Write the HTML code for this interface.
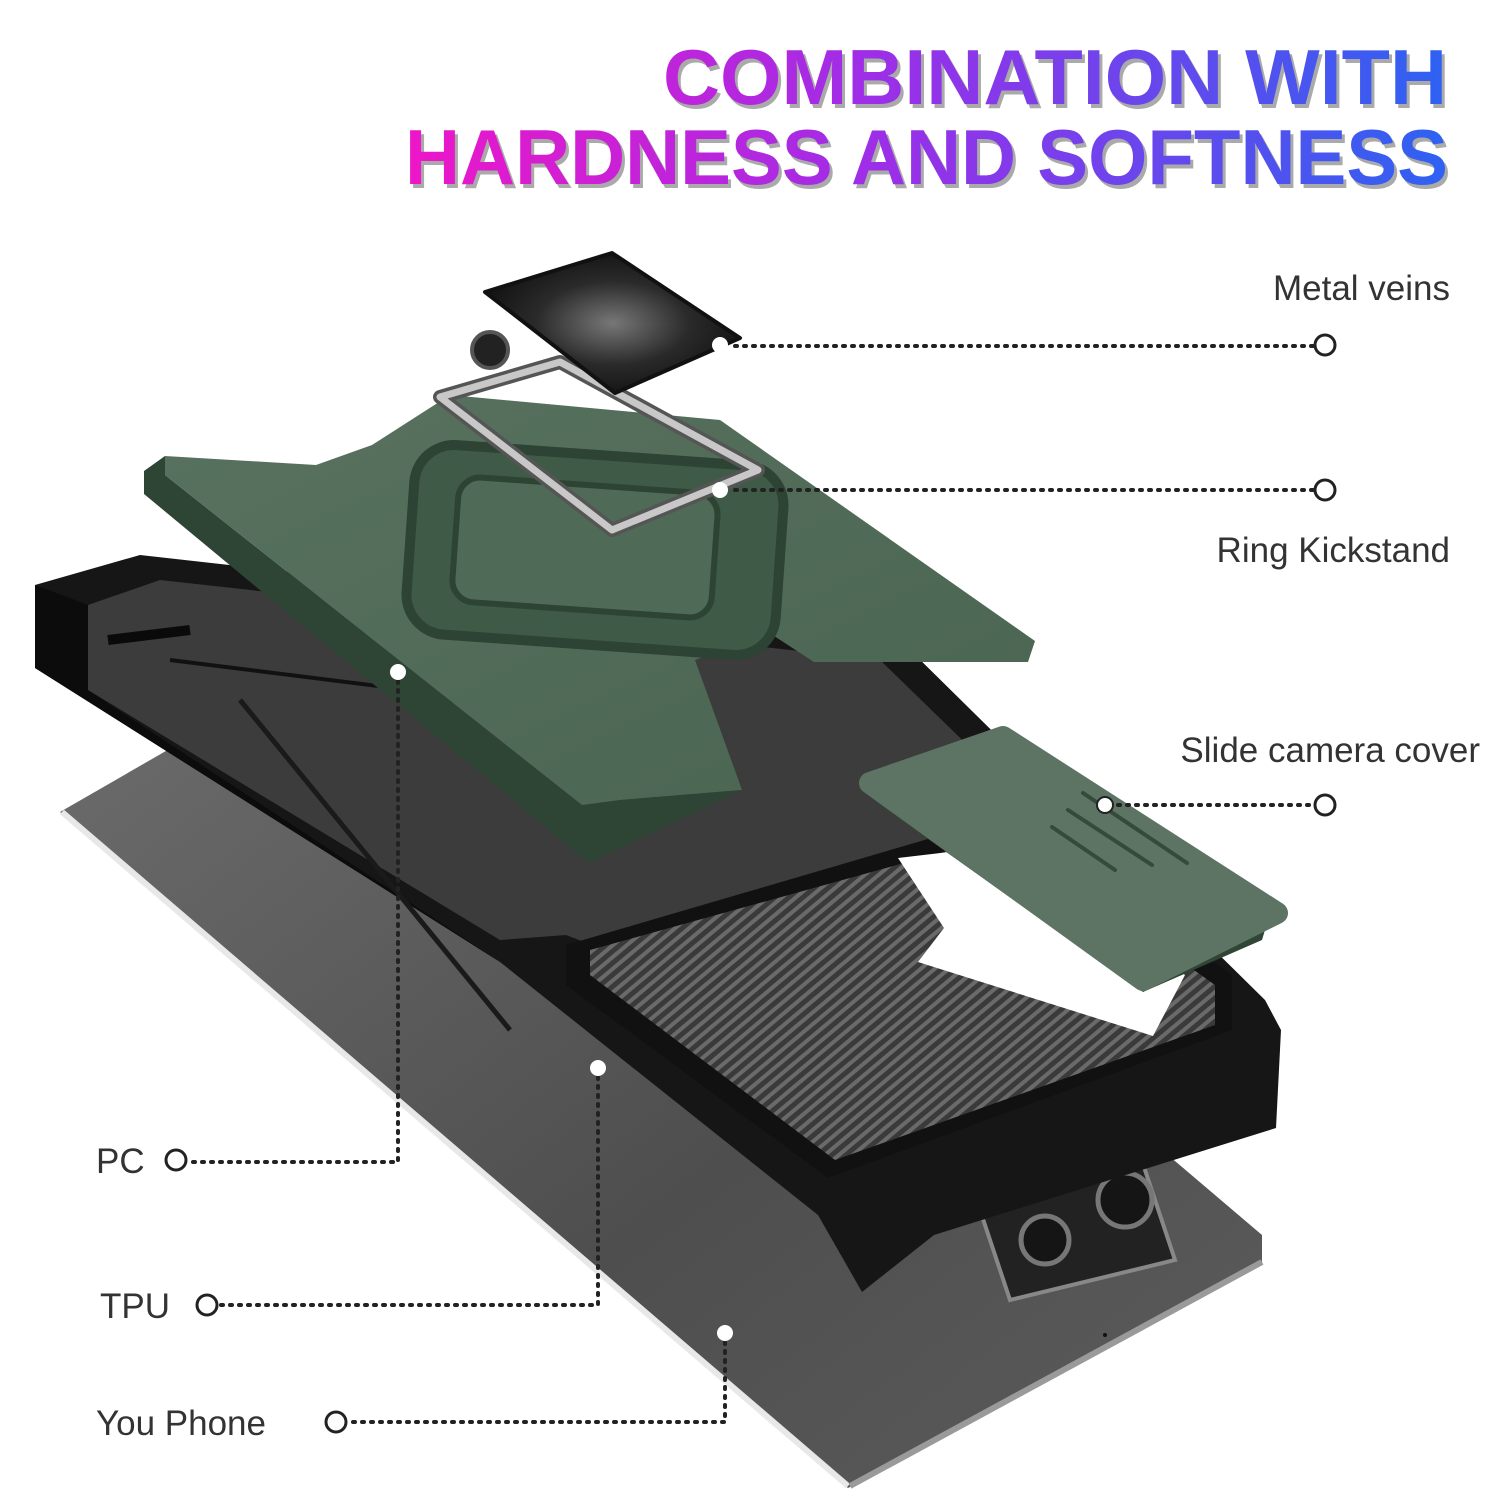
<!DOCTYPE html>
<html><head><meta charset="utf-8">
<style>
html,body{margin:0;padding:0;background:#fff;}
body{width:1500px;height:1500px;overflow:hidden;position:relative;font-family:"Liberation Sans",sans-serif;}
</style></head>
<body>
<svg width="1500" height="1500" viewBox="0 0 1500 1500" xmlns="http://www.w3.org/2000/svg">
<defs>
<linearGradient id="tg" gradientUnits="userSpaceOnUse" x1="405" y1="0" x2="1450" y2="0">
<stop offset="0" stop-color="#ee16c8"/><stop offset="0.45" stop-color="#9d2ee8"/><stop offset="1" stop-color="#2d62f2"/>
</linearGradient>
<linearGradient id="ph" x1="0" y1="0" x2="1" y2="1">
<stop offset="0" stop-color="#707070"/><stop offset="0.6" stop-color="#4e4e4e"/><stop offset="1" stop-color="#5c5c5c"/>
</linearGradient>
<linearGradient id="gr" x1="0" y1="0" x2="1" y2="1">
<stop offset="0" stop-color="#58725f"/><stop offset="1" stop-color="#4a6452"/>
</linearGradient>
<pattern id="cf" width="9" height="9" patternUnits="userSpaceOnUse" patternTransform="rotate(-40)">
<rect width="9" height="9" fill="#3a3a3a"/><rect width="9" height="4" fill="#6a6a6a"/>
</pattern>
<radialGradient id="mv" cx="0.5" cy="0.5" r="0.6"><stop offset="0" stop-color="#777"/><stop offset="0.5" stop-color="#2a2a2a"/><stop offset="1" stop-color="#0c0c0c"/></radialGradient>
</defs>

<!-- title -->
<g font-family="Liberation Sans, sans-serif" font-weight="bold" font-size="78">
<text x="663" y="104" fill="#444" opacity="0.45" transform="translate(3,4)" textLength="784" lengthAdjust="spacingAndGlyphs">COMBINATION WITH</text>
<text x="663" y="104" fill="url(#tg)" textLength="784" lengthAdjust="spacingAndGlyphs">COMBINATION WITH</text>
<text x="405" y="184" fill="#444" opacity="0.45" transform="translate(3,4)" textLength="1043" lengthAdjust="spacingAndGlyphs">HARDNESS AND SOFTNESS</text>
<text x="405" y="184" fill="url(#tg)" textLength="1043" lengthAdjust="spacingAndGlyphs">HARDNESS AND SOFTNESS</text>
</g>

<!-- phone -->
<polygon points="60,812 480,570 1262,1235 1262,1262 848,1488" fill="url(#ph)"/>
<polyline points="62,812 848,1486" stroke="#e8e8e8" stroke-width="6" fill="none"/>
<polyline points="850,1486 1262,1262" stroke="#9a9a9a" stroke-width="6" fill="none"/>
<polygon points="975,1195 1140,1155 1175,1260 1010,1300" fill="#222" stroke="#888" stroke-width="4"/>
<circle cx="1125" cy="1200" r="27" fill="#151515" stroke="#777" stroke-width="5"/>
<circle cx="1045" cy="1240" r="24" fill="#151515" stroke="#777" stroke-width="5"/>
<circle cx="1105" cy="1335" r="2" fill="#111"/>

<!-- black case -->
<polygon points="35,585 140,555 900,640 1265,1000 1281,1030 1276,1128 934,1235 862,1292 818,1215 500,962 35,668" fill="#161616"/>
<polygon points="88,605 160,580 880,660 1230,1000 1000,1100 566,935 500,940 88,690" fill="#3c3c3c"/>
<polygon points="35,585 88,605 88,690 500,962 35,668" fill="#0c0c0c"/>
<polyline points="108,640 190,630" stroke="#0a0a0a" stroke-width="10"/>
<polyline points="170,660 410,690" stroke="#111" stroke-width="4"/>
<polyline points="240,700 510,1030" stroke="#1a1a1a" stroke-width="5"/>

<!-- carbon window frame -->
<polygon points="566,945 1010,815 1232,975 1232,1030 828,1178 566,985" fill="#111"/>
<polygon points="590,950 1005,835 1215,985 1215,1025 835,1160 590,975" fill="url(#cf)"/>
<polygon points="898,858 1000,846 1185,975 1153,1036 918,962 944,928" fill="#fff"/>

<!-- green plate -->
<polygon points="144,471 165,456 165,475 582,805 620,800 589,863 144,494" fill="#2e4435"/>
<polygon points="165,456 316,465 372,445 450,395 720,420 1035,641 1028,662 814,662 768,632 695,660 742,790 620,800 582,805 165,475" fill="url(#gr)"/>
<polygon points="620,800 742,790 589,863" fill="#2e4435"/>
<rect x="410" y="455" width="370" height="190" rx="40" fill="#3f5a47" stroke="#2d4333" stroke-width="10" transform="rotate(4 595 550)"/>
<rect x="455" y="485" width="260" height="125" rx="22" fill="#4f6a57" stroke="#2d4333" stroke-width="6" transform="rotate(4 585 547)"/>

<!-- ring -->
<polygon points="440,397 560,362 758,470 612,530" fill="none" stroke="#555" stroke-width="14" stroke-linejoin="round"/>
<polygon points="440,397 560,362 758,470 612,530" fill="none" stroke="#c8c8c8" stroke-width="7" stroke-linejoin="round"/>
<circle cx="490" cy="350" r="18" fill="#222" stroke="#555" stroke-width="4"/>

<!-- metal disc -->
<polygon points="485,292 612,253 740,338 615,393" fill="url(#mv)" stroke="#111" stroke-width="4" stroke-linejoin="round"/>

<!-- camera cover -->
<path d="M876,795 L1143,985 L1265,930 L1262,940 L1143,992 L876,802 Z" fill="#2f4536"/>
<polygon points="870,783 1003,737 1277,913 1143,980" fill="#5d7464" stroke="#5d7464" stroke-width="22" stroke-linejoin="round"/>
<g stroke="#344b3c" stroke-width="4" stroke-linecap="round">
<line x1="1083" y1="793" x2="1187" y2="863"/><line x1="1068" y1="810" x2="1152" y2="865"/><line x1="1052" y1="827" x2="1115" y2="870"/>
</g>

<!-- leaders -->
<g stroke="#222" stroke-width="4" stroke-dasharray="2,7" stroke-linecap="round" fill="none">
<line x1="735" y1="346" x2="1315" y2="346"/>
<line x1="735" y1="490" x2="1315" y2="490"/>
<line x1="1118" y1="805" x2="1315" y2="805"/>
<polyline points="398,672 398,1162 188,1162"/>
<polyline points="598,1068 598,1305 218,1305"/>
<polyline points="725,1333 725,1422 347,1422"/>
</g>
<g fill="#fff" stroke="#222" stroke-width="3">
<circle cx="1325" cy="345" r="10"/><circle cx="1325" cy="490" r="10"/><circle cx="1325" cy="805" r="10"/>
<circle cx="176" cy="1160" r="10"/><circle cx="207" cy="1305" r="10"/><circle cx="336" cy="1422" r="10"/>
</g>
<g fill="#fff">
<circle cx="720" cy="345" r="8"/><circle cx="720" cy="490" r="8"/><circle cx="1105" cy="805" r="8" stroke="#222" stroke-width="2"/>
<circle cx="398" cy="672" r="8"/><circle cx="598" cy="1068" r="8"/><circle cx="725" cy="1333" r="8"/>
</g>

<g font-family="Liberation Sans, sans-serif" font-size="35" fill="#333">
<text x="1450" y="300" text-anchor="end">Metal veins</text>
<text x="1450" y="562" text-anchor="end">Ring Kickstand</text>
<text x="1480" y="762" text-anchor="end">Slide camera cover</text>
<text x="96" y="1173">PC</text>
<text x="100" y="1318">TPU</text>
<text x="96" y="1435">You Phone</text>
</g>
</svg>
</body></html>
